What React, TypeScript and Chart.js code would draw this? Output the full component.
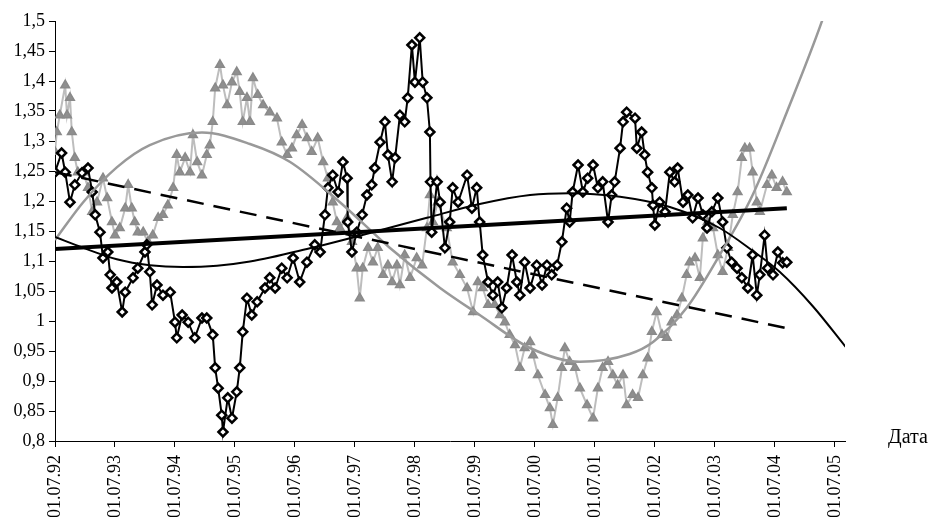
import React, { useEffect, useRef } from "react";
import { Chart, registerables } from "chart.js";

Chart.register(...registerables);

// x values are years elapsed since 01.07.1992
const xTickValues = [0, 1, 2, 3, 4, 5, 6, 7, 8, 9, 10, 11, 12, 13];
const xTickLabels = [
  "01.07.92", "01.07.93", "01.07.94", "01.07.95", "01.07.96", "01.07.97", "01.07.98",
  "01.07.99", "01.07.00", "01.07.01", "01.07.02", "01.07.03", "01.07.04", "01.07.05",
];
const yTickValues = [0.8, 0.85, 0.9, 0.95, 1, 1.05, 1.1, 1.15, 1.2, 1.25, 1.3, 1.35, 1.4, 1.45, 1.5];
const yTickLabels = ["0,8", "0,85", "0,9", "0,95", "1", "1,05", "1,1", "1,15", "1,2", "1,25", "1,3", "1,35", "1,4", "1,45", "1,5"];

const blackX = [
  0.0, 0.11, 0.17, 0.25, 0.33, 0.45, 0.55, 0.62, 0.67, 0.75, 0.8, 0.88, 0.92, 0.95, 1.03, 1.12, 1.17, 1.3, 1.38, 1.5,
  1.53, 1.58, 1.62, 1.7, 1.8, 1.92, 2.0, 2.03, 2.12, 2.22, 2.33, 2.45, 2.53, 2.63, 2.67, 2.72, 2.78, 2.8, 2.88, 2.95,
  3.03, 3.08, 3.13, 3.2, 3.28, 3.37, 3.5, 3.58, 3.67, 3.78, 3.87, 3.97, 4.08, 4.2, 4.33, 4.42, 4.5, 4.55, 4.63, 4.72,
  4.8, 4.87, 4.88, 4.95, 5.03, 5.12, 5.2, 5.28, 5.33, 5.42, 5.5, 5.55, 5.62, 5.67, 5.75, 5.83, 5.88, 5.95, 6.0, 6.08,
  6.13, 6.2, 6.25, 6.26, 6.28, 6.37, 6.42, 6.5, 6.58, 6.63, 6.72, 6.87, 6.95, 7.03, 7.08, 7.13, 7.22, 7.3, 7.38, 7.45,
  7.53, 7.62, 7.7, 7.75, 7.83, 7.92, 8.03, 8.12, 8.2, 8.28, 8.37, 8.45, 8.53, 8.58, 8.63, 8.72, 8.8, 8.88, 8.97, 9.05,
  9.13, 9.22, 9.28, 9.33, 9.42, 9.47, 9.53, 9.67, 9.7, 9.78, 9.83, 9.88, 9.95, 9.97, 10.0, 10.08, 10.17, 10.25, 10.33, 10.38,
  10.47, 10.55, 10.63, 10.72, 10.8, 10.87, 10.95, 11.05, 11.13, 11.2, 11.28, 11.37, 11.45, 11.55, 11.63, 11.7, 11.75, 11.83, 11.88, 11.97,
  12.05, 12.13, 12.2,
];
const blackY = [
  1.248, 1.28, 1.248, 1.198, 1.227, 1.247, 1.255, 1.215, 1.177, 1.148, 1.105, 1.115, 1.077, 1.055, 1.065, 1.015, 1.048, 1.072, 1.088, 1.115,
  1.127, 1.082, 1.027, 1.06, 1.043, 1.048, 0.998, 0.972, 1.01, 0.998, 0.972, 1.005, 1.005, 0.977, 0.922, 0.888, 0.843, 0.815, 0.872, 0.838,
  0.882, 0.922, 0.982, 1.038, 1.01, 1.032, 1.055, 1.072, 1.055, 1.088, 1.072, 1.105, 1.065, 1.098, 1.127, 1.115, 1.177, 1.222, 1.243, 1.215,
  1.265, 1.238, 1.165, 1.115, 1.148, 1.177, 1.21, 1.227, 1.255, 1.298, 1.332, 1.277, 1.232, 1.272, 1.343, 1.332, 1.372, 1.46, 1.398, 1.472,
  1.398, 1.372, 1.315, 1.232, 1.148, 1.232, 1.198, 1.122, 1.165, 1.222, 1.198, 1.243, 1.188, 1.222, 1.165, 1.11, 1.065, 1.043, 1.065, 1.022,
  1.055, 1.11, 1.065, 1.043, 1.098, 1.055, 1.093, 1.06, 1.093, 1.077, 1.093, 1.132, 1.188, 1.165, 1.215, 1.26, 1.215, 1.238, 1.26, 1.222,
  1.232, 1.165, 1.21, 1.232, 1.288, 1.332, 1.348, 1.338, 1.288, 1.315, 1.277, 1.248, 1.222, 1.193, 1.16, 1.198, 1.182, 1.248, 1.232, 1.255,
  1.198, 1.21, 1.172, 1.205, 1.177, 1.155, 1.182, 1.205, 1.165, 1.122, 1.098, 1.088, 1.072, 1.055, 1.11, 1.043, 1.077, 1.143, 1.088, 1.077,
  1.115, 1.097, 1.098,
];

const grayX = [
  0.0, 0.03, 0.08, 0.17, 0.2, 0.25, 0.28, 0.33, 0.38, 0.47, 0.55, 0.62, 0.7, 0.8, 0.87, 0.95, 1.0, 1.08, 1.17, 1.22,
  1.28, 1.33, 1.38, 1.47, 1.55, 1.63, 1.72, 1.8, 1.88, 1.97, 2.03, 2.08, 2.17, 2.25, 2.3, 2.37, 2.45, 2.53, 2.58, 2.63,
  2.67, 2.75, 2.8, 2.87, 2.95, 3.03, 3.08, 3.13, 3.2, 3.25, 3.3, 3.38, 3.47, 3.58, 3.7, 3.78, 3.87, 3.95, 4.03, 4.12,
  4.2, 4.28, 4.38, 4.47, 4.55, 4.63, 4.7, 4.75, 4.87, 4.95, 5.03, 5.08, 5.13, 5.22, 5.3, 5.38, 5.47, 5.55, 5.62, 5.7,
  5.75, 5.83, 5.92, 6.03, 6.12, 6.2, 6.25, 6.3, 6.38, 6.53, 6.63, 6.75, 6.87, 6.97, 7.05, 7.13, 7.22, 7.33, 7.42, 7.5,
  7.58, 7.67, 7.75, 7.83, 7.92, 7.97, 8.05, 8.17, 8.25, 8.3, 8.38, 8.45, 8.5, 8.58, 8.67, 8.75, 8.87, 8.97, 9.05, 9.13,
  9.22, 9.3, 9.38, 9.47, 9.53, 9.63, 9.72, 9.8, 9.88, 9.95, 10.03, 10.12, 10.2, 10.28, 10.37, 10.45, 10.53, 10.58, 10.67, 10.75,
  10.8, 10.88, 10.97, 11.05, 11.13, 11.22, 11.3, 11.38, 11.45, 11.5, 11.58, 11.63, 11.7, 11.75, 11.87, 11.95, 12.03, 12.13, 12.2,
];
const grayY = [
  1.282, 1.315, 1.343, 1.393, 1.343, 1.372, 1.315, 1.272, 1.248, 1.248, 1.222, 1.182, 1.198, 1.238, 1.205, 1.165, 1.143, 1.155, 1.188, 1.227,
  1.188, 1.165, 1.148, 1.148, 1.132, 1.143, 1.172, 1.177, 1.193, 1.222, 1.277, 1.248, 1.272, 1.248, 1.31, 1.265, 1.243, 1.277, 1.293, 1.332,
  1.388, 1.427, 1.393, 1.36, 1.398, 1.415, 1.382, 1.332, 1.372, 1.332, 1.405, 1.377, 1.36, 1.348, 1.338, 1.298, 1.277, 1.288, 1.31, 1.327,
  1.305, 1.282, 1.305, 1.265, 1.238, 1.198, 1.165, 1.155, 1.172, 1.132, 1.088, 1.038, 1.088, 1.122, 1.098, 1.122, 1.077, 1.093, 1.065, 1.093,
  1.06, 1.11, 1.072, 1.105, 1.093, 1.155, 1.21, 1.165, 1.198, 1.155, 1.098, 1.077, 1.055, 1.015, 1.065, 1.055, 1.027, 1.027, 1.01, 0.998,
  0.977, 0.96, 0.922, 0.955, 0.965, 0.943, 0.91, 0.877, 0.855, 0.827, 0.872, 0.922, 0.955, 0.932, 0.922, 0.888, 0.86, 0.838, 0.888, 0.922,
  0.932, 0.91, 0.893, 0.91, 0.86, 0.877, 0.872, 0.91, 0.938, 0.982, 1.015, 0.977, 0.972, 0.998, 1.01, 1.038, 1.077, 1.098, 1.105, 1.072,
  1.138, 1.165, 1.155, 1.11, 1.082, 1.122, 1.177, 1.215, 1.272, 1.288, 1.288, 1.248, 1.198, 1.182, 1.227, 1.243, 1.222, 1.232, 1.215,
];

// trend lines, values
const blackPolyX = [0, 0.47, 1.03, 1.58, 2.13, 2.7, 3.25, 4.2, 5.3, 6.2, 7.08, 7.92, 8.58, 9.42, 10.25, 11.08, 11.63, 12.08, 12.63, 13.18];
const blackPolyY = [1.14, 1.122, 1.103, 1.093, 1.09, 1.092, 1.099, 1.12, 1.148, 1.172, 1.195, 1.21, 1.213, 1.207, 1.19, 1.155, 1.117, 1.082, 1.025, 0.957];
const grayPolyX = [0, 0.47, 1.03, 1.58, 2.45, 3.25, 3.92, 4.75, 5.58, 6.42, 7.08, 7.92, 8.75, 9.58, 9.97, 10.53, 11.08, 11.63, 12.2, 12.78, 13.18];
const grayPolyY = [1.135, 1.198, 1.256, 1.293, 1.314, 1.295, 1.265, 1.198, 1.122, 1.055, 1.01, 0.955, 0.932, 0.945, 0.965, 1.022, 1.11, 1.21, 1.348, 1.498, 1.62];
const blackLinX = [0, 12.2];
const blackLinY = [1.12, 1.188];
const grayLinX = [0, 12.2];
const grayLinY = [1.248, 0.988];

const xMax = 13.17;
const axisLabel = "Дата";

const pts = (xs: number[], ys: number[]) => xs.map((x, i) => ({ x, y: ys[i] }));

const FONT = '"Liberation Serif", "Times New Roman", serif';

export default function App() {
  const ref = useRef<HTMLCanvasElement | null>(null);

  useEffect(() => {
    document.body.style.margin = "0";
    if (!ref.current) return;
    const labelPlugin = {
      id: "axisLabel",
      afterDraw(chart: any) {
        const ctx = chart.ctx;
        ctx.save();
        ctx.font = `20px ${FONT}`;
        ctx.fillStyle = "#000";
        ctx.textAlign = "left";
        ctx.textBaseline = "alphabetic";
        ctx.fillText(axisLabel, 888, 443);
        ctx.restore();
      },
    };
    const chart = new Chart(ref.current, {
      type: "line",
      data: {
        datasets: [
          {
            data: pts(blackLinX, blackLinY),
            borderColor: "#000",
            borderWidth: 4,
            pointRadius: 0,
            order: 0,
          },
          {
            data: pts(grayLinX, grayLinY),
            borderColor: "#000",
            borderWidth: 2.5,
            borderDash: [17, 10],
            pointRadius: 0,
            order: 0,
          },
          {
            data: pts(blackPolyX, blackPolyY),
            borderColor: "#000",
            borderWidth: 2,
            pointRadius: 0,
            cubicInterpolationMode: "monotone",
            order: 0,
          },
          {
            data: pts(grayPolyX, grayPolyY),
            borderColor: "#999",
            borderWidth: 2.5,
            pointRadius: 0,
            cubicInterpolationMode: "monotone",
            order: 0,
          },
          {
            data: pts(blackX, blackY),
            borderColor: "#000",
            borderWidth: 2,
            pointStyle: "rectRot",
            pointRadius: 4.5,
            pointBorderWidth: 2.5,
            pointBorderColor: "#000",
            pointBackgroundColor: "#fff",
            order: 1,
          },
          {
            data: pts(grayX, grayY),
            borderColor: "#bdbdbd",
            borderWidth: 2,
            pointStyle: "triangle",
            pointRadius: 5,
            pointBorderWidth: 1.5,
            pointBorderColor: "#8a8a8a",
            pointBackgroundColor: "#8f8f8f",
            order: 2,
          },
        ],
      },
      options: {
        animation: false,
        responsive: true,
        maintainAspectRatio: false,
        layout: { padding: { top: 21, right: 87, left: 0, bottom: 0 } },
        plugins: { legend: { display: false }, tooltip: { enabled: false } },
        scales: {
          x: {
            type: "linear",
            min: 0,
            max: xMax,
            afterBuildTicks: (scale: any) => {
              scale.ticks = xTickValues.map((v) => ({ value: v }));
            },
            afterFit: (scale: any) => {
              scale.height = 76;
            },
            ticks: {
              autoSkip: false,
              maxRotation: 90,
              minRotation: 90,
              padding: 8,
              color: "#000",
              font: { family: FONT, size: 18 },
              callback: (v: any) => {
                const i = xTickValues.indexOf(Number(v));
                return i >= 0 ? xTickLabels[i] : "";
              },
            },
            grid: { drawOnChartArea: false, drawTicks: true, tickLength: 6, color: "#000" },
            border: { display: true, color: "#000", width: 1 },
          },
          y: {
            type: "linear",
            min: 0.8,
            max: 1.5,
            afterBuildTicks: (scale: any) => {
              scale.ticks = yTickValues.map((v) => ({ value: v }));
            },
            afterFit: (scale: any) => {
              scale.width = 55;
            },
            ticks: {
              autoSkip: false,
              padding: 4,
              color: "#000",
              font: { family: FONT, size: 18 },
              callback: (v: any) => {
                const i = yTickValues.findIndex((t) => Math.abs(t - Number(v)) < 1e-6);
                return i >= 0 ? yTickLabels[i] : "";
              },
            },
            grid: { drawOnChartArea: false, drawTicks: true, tickLength: 6, color: "#000" },
            border: { display: true, color: "#000", width: 1 },
          },
        },
      },
      plugins: [labelPlugin],
    } as any);
    return () => chart.destroy();
  }, []);

  return (
    <div style={{ width: 932, height: 517, position: "relative" }}>
      <canvas ref={ref} />
    </div>
  );
}
